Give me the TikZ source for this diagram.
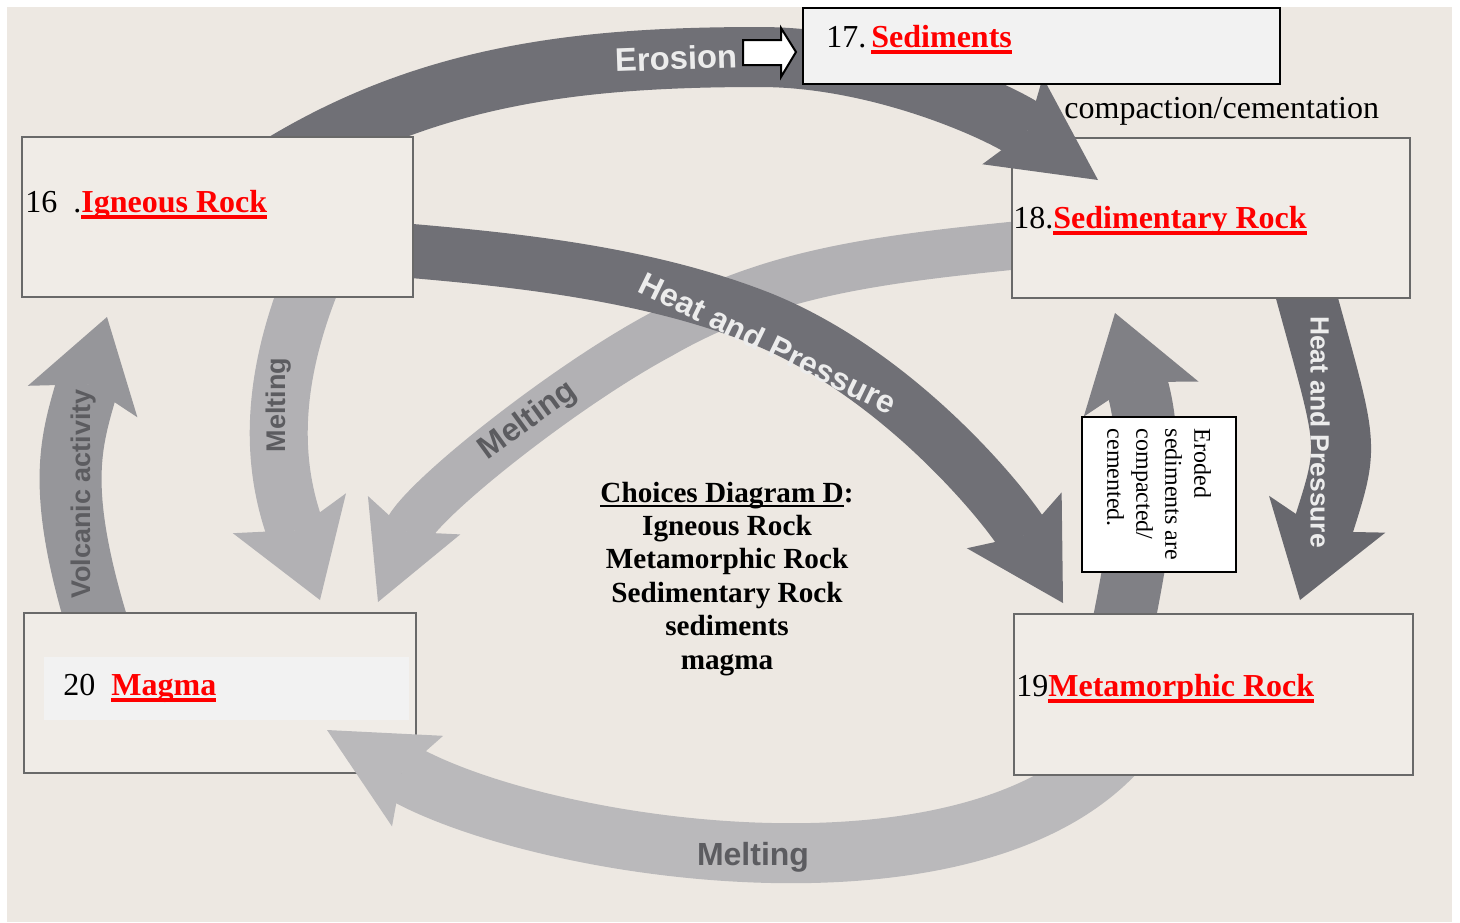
\documentclass[tikz,border=0pt]{standalone}
\usepackage{fontspec}
\usepackage{xcolor}
\usepackage{tikz}
\setmainfont{Liberation Serif}
\newfontfamily\bandfont{Liberation Sans}
\usetikzlibrary{arrows.meta}

\definecolor{pagebg}{RGB}{237,232,226}
\definecolor{boxfill}{RGB}{240,236,231}
\definecolor{boxline}{RGB}{105,105,105}
\definecolor{labelfill}{RGB}{242,242,242}
\definecolor{bandDark}{RGB}{112,112,118}
\definecolor{bandDarker}{RGB}{104,104,110}
\definecolor{bandMid}{RGB}{128,128,133}
\definecolor{bandVolc}{RGB}{150,150,154}
\definecolor{bandLight}{RGB}{178,177,180}
\definecolor{bandPale}{RGB}{186,185,187}
\definecolor{lightlabel}{RGB}{236,236,236}
\definecolor{darklabel}{RGB}{92,92,96}
\definecolor{ansred}{RGB}{255,0,0}

% red answer, thick underline
\newcommand{\answer}[1]{{\color{ansred}\bfseries\setbox0=\hbox{#1}\rlap{\rule[-3.6pt]{\wd0}{1.9pt}}\box0}}
\newcommand{\choicehead}[1]{{\setbox0=\hbox{#1}\rlap{\rule[-2.4pt]{\wd0}{0.9pt}}\box0}}

\tikzset{
  rockbox/.style={draw=boxline, fill=boxfill, line width=0.8pt, inner sep=0pt},
  boxtext/.style={anchor=base west, inner sep=0pt, font=\fontsize{16}{19}\selectfont},
  choice/.style={anchor=base, inner sep=0pt, font=\fontsize{14.6}{17}\selectfont\bfseries},
  bandlabel/.style={inner sep=0pt, font=\bandfont\bfseries\fontsize{16}{19}\selectfont},
  smalllabel/.style={bandlabel, font=\bandfont\bfseries\fontsize{13.5}{16}\selectfont},
  rockband/.style n args={5}{draw=#1, line width=#2,
    -{Stealth[length=#3, width=#4, inset=#5, line width=0pt]}},
}

\begin{document}
\begin{tikzpicture}[x=0.5pt, y=-0.5pt]
  \useasboundingbox (0,0) rectangle (1460,922);
  \fill[white] (0,0) rectangle (1460,922);
  \fill[pagebg] (7,7) rectangle (1452,922);

  % band ends
  \coordinate (ero-s) at (274,169);  \coordinate (ero-t) at (1098,180);
  \coordinate (hp-s) at (400,250);   \coordinate (hp-t) at (1063,603);
  \coordinate (mc-s) at (1020,245);  \coordinate (mc-t) at (378,602);
  \coordinate (md-s) at (318,265);   \coordinate (md-t) at (320,600);
  \coordinate (va-s) at (102,640);   \coordinate (va-t) at (107,317);
  \coordinate (mb-s) at (1130,735);  \coordinate (mb-t) at (327,730);
  \coordinate (hr-s) at (1302,280);  \coordinate (hr-t) at (1300,600);
  \coordinate (cc-s) at (1120,640);  \coordinate (cc-t) at (1115,313);

  % Volcanic activity
  \draw[rockband={bandVolc}{31pt}{44pt}{57pt}{9pt}] (va-s) .. controls (54,488) and (71,442) .. (va-t);
  % Melting, left
  \draw[rockband={bandLight}{29pt}{46pt}{60pt}{9pt}] (md-s) .. controls (262,394) and (277,478) .. (md-t);
  % Melting, diagonal
  \draw[rockband={bandLight}{24pt}{47pt}{50pt}{9pt}] (mc-s) .. controls (870,260) and (766,274) .. (660,335)
    .. controls (563,387) and (420,501) .. (mc-t);
  % Heat and Pressure
  \draw[rockband={bandDark}{27pt}{48pt}{55pt}{9pt}] (hp-s) .. controls (520,260) and (648,274) .. (760,318)
    .. controls (900,374) and (1007,508) .. (hp-t);
  % Heat and Pressure, right
  \draw[rockband={bandDarker}{30pt}{45pt}{61pt}{9pt}] (hr-s) .. controls (1349,453) and (1351,439) .. (hr-t);
  % compaction
  \draw[rockband={bandMid}{31pt}{45pt}{60pt}{9pt}] (cc-s) .. controls (1148,503) and (1153,438) .. (cc-t);

  \node[rockbox, minimum width=196pt, minimum height=80pt] (magma) at (220,693) {};
  % Melting, bottom
  \draw[rockband={bandPale}{30pt}{52pt}{52pt}{9pt}] (mb-s) .. controls (992,919) and (545,853) .. (mb-t);
  \node[rockbox, minimum width=199.5pt, minimum height=80.5pt] (metamorphic) at (1213.5,694.5) {};
  \node[rockbox, minimum width=199pt, minimum height=80pt] (sedimentary) at (1211,218) {};
  % Erosion
  \draw[rockband={bandDark}{30pt}{52pt}{53pt}{9pt}] (ero-s) .. controls (427,74) and (580,57) .. (760,57)
    .. controls (880,57) and (1000,112) .. (ero-t);
  \node[rockbox, minimum width=195.5pt, minimum height=80pt] (igneous) at (217.5,217) {};
  \node[draw=black, fill=labelfill, line width=1pt, inner sep=0pt, minimum width=238.5pt, minimum height=38pt] (sediments) at (1041.5,46) {};
  \node[fill=labelfill, inner sep=0pt, minimum width=182.5pt, minimum height=31.5pt] (magmalabel) at (226.5,688.5) {};

  % answers
  \node[boxtext] (ans16) at (25,212) {16\ \ .\answer{Igneous Rock}};
  \node[boxtext] (ans17) at (826,47) {17.\hspace{2.5pt}\answer{Sediments}};
  \node[boxtext] (ans18) at (1013,228) {18.\answer{Sedimentary Rock}};
  \node[boxtext] (ans19) at (1016,696) {19\answer{Metamorphic Rock}};
  \node[boxtext] (ans20) at (63,695) {20\ \ \answer{Magma}};
  \node[boxtext] (compaction) at (1064,118) {compaction/cementation};

  % pointer to the sediments box
  \draw[line width=1pt, fill=white] (743,40) -- (781,40) -- (781,28) -- (796,52)
    -- (781,77) -- (781,65) -- (743,65) -- cycle;

  % word list
  \node[choice] (choice0) at (727,502) {\choicehead{Choices Diagram D}:};
  \node[choice] (choice1) at (727,535) {Igneous Rock};
  \node[choice] (choice2) at (727,568) {Metamorphic Rock};
  \node[choice] (choice3) at (727,602) {Sedimentary Rock};
  \node[choice] (choice4) at (727,635) {sediments};
  \node[choice] (choice5) at (727,669) {magma};

  \node[rotate=-90, draw=black, line width=1pt, fill=white, inner sep=0pt,
    minimum width=77.5pt, minimum height=77pt, align=left,
    font=\fontsize{12}{14.5}\selectfont] (eroded) at (1159,494.5)
    {Eroded\\sediments are\\compacted/\\cemented.};

  % labels on the bands
  \node[bandlabel, text=lightlabel, rotate=2, font=\bandfont\bfseries\fontsize{16.4}{19}\selectfont] (erosionlbl) at (676,58) {Erosion};
  \node[bandlabel, text=lightlabel, rotate=-26] (heatlbl) at (768,343) {Heat and Pressure};
  \node[bandlabel, text=darklabel, rotate=36] (meltlbl) at (528,421) {Melting};
  \node[smalllabel, text=darklabel, rotate=90] (meltleftlbl) at (279,405) {Melting};
  \node[smalllabel, text=lightlabel, rotate=-90, font=\bandfont\bfseries\fontsize{13.2}{16}\selectfont] (heatrightlbl) at (1320,432) {Heat and Pressure};
  \node[smalllabel, text=darklabel, rotate=90] (volclbl) at (84,494) {Volcanic activity};
  \node[bandlabel, text=darklabel] (meltbotlbl) at (753,857) {Melting};
\end{tikzpicture}
\end{document}
